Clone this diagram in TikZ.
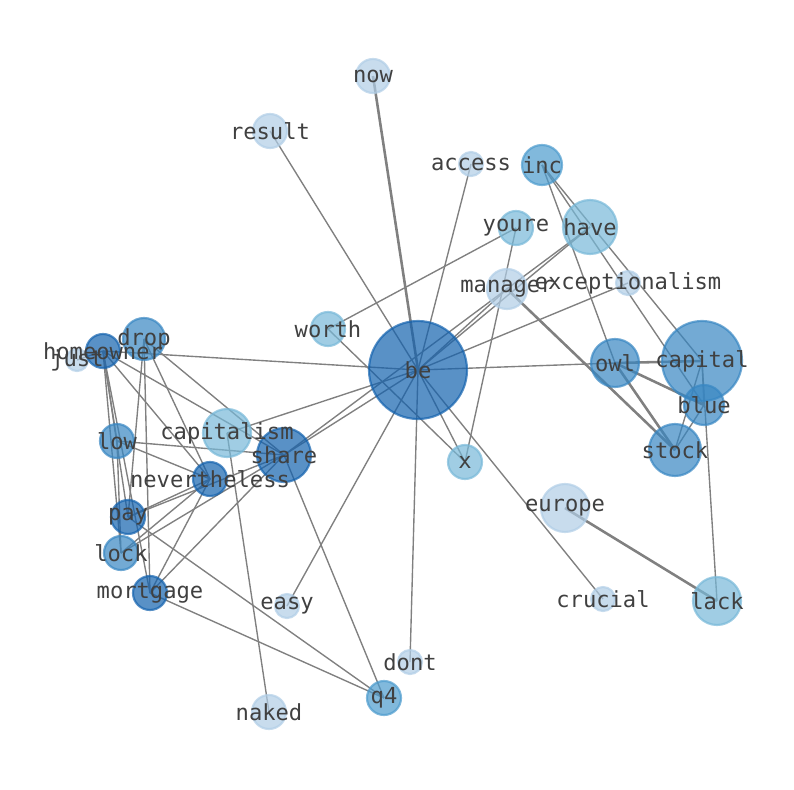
\documentclass[tikz,border=0pt]{standalone}
\usepackage{fontspec}
\setmonofont{DejaVu Sans Mono}
\pgfdeclarelayer{bg}
\pgfsetlayers{bg,main}
\definecolor{lvA}{HTML}{B0CDE6}
\definecolor{lvB}{HTML}{77B8D8}
\definecolor{lvC}{HTML}{4C9BCD}
\definecolor{lvD}{HTML}{3786C2}
\definecolor{lvE}{HTML}{1362AE}
\definecolor{txt}{HTML}{404040}
\tikzset{
  vtx/.style={circle, inner sep=0pt, minimum size=#1*0.508mm, fill opacity=0.7, draw opacity=0.7, line width=0.55mm},
  lvA/.style={fill=lvA, draw=lvA}, lvB/.style={fill=lvB, draw=lvB},
  lvC/.style={fill=lvC, draw=lvC}, lvD/.style={fill=lvD, draw=lvD},
  lvE/.style={fill=lvE, draw=lvE},
  edge/.style={draw=gray, line width=0.35mm},
  heavy/.style={draw=gray, line width=0.65mm},
  lbl/.style={font=\ttfamily\fontsize{16}{16}\selectfont, text=txt, inner sep=0pt}
}
\begin{document}
\begin{tikzpicture}[x=0.254mm, y=-0.254mm]
  \useasboundingbox (0,0) rectangle (794,790);
  % Words
  \node[vtx=17, lvA] (now) at (373,76) {};
  \node[vtx=17, lvA] (result) at (270,131) {};
  \node[vtx=12, lvA] (access) at (471,164) {};
  \node[vtx=20, lvC] (inc) at (542,165) {};
  \node[vtx=17, lvB] (youre) at (516,228) {};
  \node[vtx=27, lvB] (have) at (590,227) {};
  \node[vtx=20, lvA] (manager) at (507,289) {};
  \node[vtx=12, lvA] (exceptionalism) at (628,283) {};
  \node[vtx=17, lvB] (worth) at (328,329) {};
  \node[vtx=49, lvE] (be) at (418,370) {};
  \node[vtx=21, lvD] (drop) at (144,339) {};
  \node[vtx=11, lvA] (just) at (77,360) {};
  \node[vtx=17, lvE] (homeowner) at (103,351) {};
  \node[vtx=40, lvD] (capital) at (702,361) {};
  \node[vtx=24, lvD] (owl) at (615,363) {};
  \node[vtx=20, lvD] (blue) at (704,405) {};
  \node[vtx=26, lvD] (stock) at (675,450) {};
  \node[vtx=17, lvD] (low) at (117,441) {};
  \node[vtx=24, lvB] (capitalism) at (227,433) {};
  \node[vtx=27, lvE] (share) at (284,455) {};
  \node[vtx=17, lvE] (nevertheless) at (210,479) {};
  \node[vtx=17, lvB] (x) at (465,462) {};
  \node[vtx=24, lvA] (europe) at (565,508) {};
  \node[vtx=17, lvE] (pay) at (128,517) {};
  \node[vtx=17, lvD] (lock) at (121,553) {};
  \node[vtx=17, lvE] (mortgage) at (150,593) {};
  \node[vtx=12, lvA] (easy) at (287,606) {};
  \node[vtx=12, lvA] (crucial) at (603,599) {};
  \node[vtx=24, lvB] (lack) at (717,601) {};
  \node[vtx=12, lvA] (dont) at (410,662) {};
  \node[vtx=17, lvC] (q4) at (384,698) {};
  \node[vtx=17, lvA] (naked) at (269,712) {};
  % Links
  \begin{pgfonlayer}{bg}
    \foreach \a/\b in {result/be, access/be, be/have, be/manager, be/exceptionalism,
      be/owl, be/x, be/crucial, be/dont, be/easy, be/share, be/capitalism,
      be/homeowner, worth/youre, worth/x, youre/x, share/have, inc/owl, inc/blue,
      inc/capital, capital/blue, capital/stock, blue/stock, capital/lack,
      homeowner/just, homeowner/share, homeowner/nevertheless, homeowner/low,
      homeowner/pay, homeowner/lock, homeowner/mortgage, drop/share,
      drop/nevertheless, drop/pay, drop/mortgage, low/share, low/nevertheless,
      low/lock, capitalism/naked, nevertheless/pay, nevertheless/lock,
      nevertheless/mortgage, share/pay, share/lock, share/mortgage, share/q4,
      pay/q4, mortgage/q4}
      \draw[edge] (\a.center) -- (\b.center);
    \foreach \a/\b in {now/be, manager/stock, owl/capital, owl/blue, owl/stock,
      europe/lack}
      \draw[heavy] (\a.center) -- (\b.center);
  \end{pgfonlayer}
  % Labels
  \foreach \n in {now, result, access, inc, youre, have, manager, exceptionalism,
    worth, be, drop, just, homeowner, capital, owl, blue, stock, low, capitalism,
    share, nevertheless, x, europe, pay, lock, mortgage, easy, crucial, lack,
    dont, q4, naked}
    \node[lbl] at (\n) {\n};
\end{tikzpicture}
\end{document}
